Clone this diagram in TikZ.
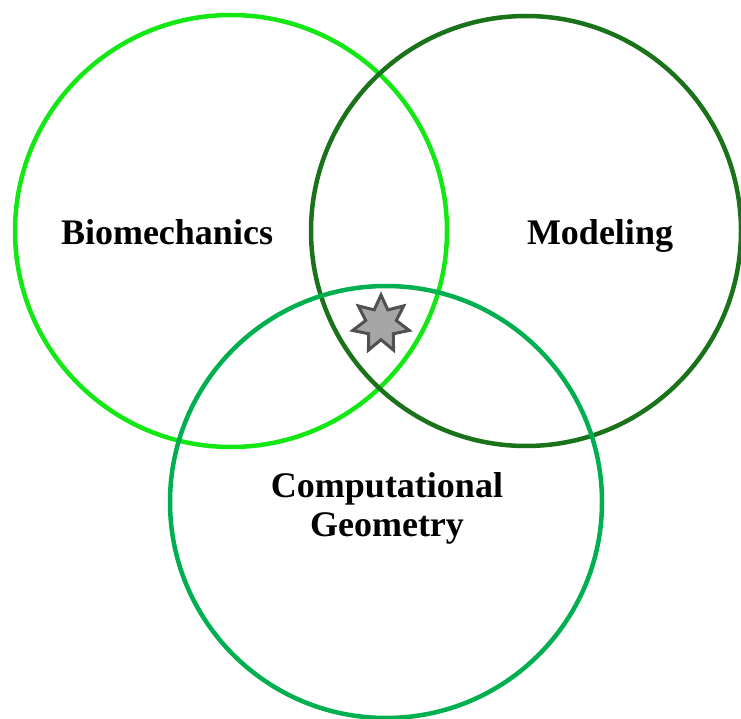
\documentclass[tikz,border=0pt]{standalone}
\usepackage{fontspec}
\setmainfont{Liberation Serif}
\usepackage{xcolor}
\usepackage{tikz}
\usetikzlibrary{positioning, shapes.geometric}

\definecolor{bioGreen}{RGB}{20,232,20}
\definecolor{modGreen}{RGB}{26,115,26}
\definecolor{geoGreen}{RGB}{0,176,80}
\definecolor{starFill}{RGB}{166,166,166}
\definecolor{starLine}{RGB}{80,80,80}

\begin{document}
\begin{tikzpicture}[x=1pt, y=-1pt,
    ring/.style={line width=4.5pt},
    field/.style={font=\fontsize{36}{39}\selectfont\bfseries, inner sep=0pt, align=center},
    core/.style={star, star points=7, star point ratio=1.85, minimum size=58pt,
                 inner sep=0pt, fill=starFill, draw=starLine, line width=3pt}]
    \useasboundingbox (0, 0) rectangle (741, 719);

    % 三个圆
    \draw[ring, bioGreen] (231, 231) circle[radius=216];
    \draw[ring, modGreen] (526, 231) circle[radius=215];
    \draw[ring, geoGreen] (386, 502) circle[radius=216];

    % 中心星形
    \node[core] (overlap) at (381, 324) {};

    % 文字
    \node[field, anchor=base] (bio) at (167, 244) {Biomechanics};
    \node[field, anchor=base] (mod) at (600, 244) {Modeling};
    \node[field] (geo) at (387, 508) {Computational\\Geometry};
\end{tikzpicture}
\end{document}
